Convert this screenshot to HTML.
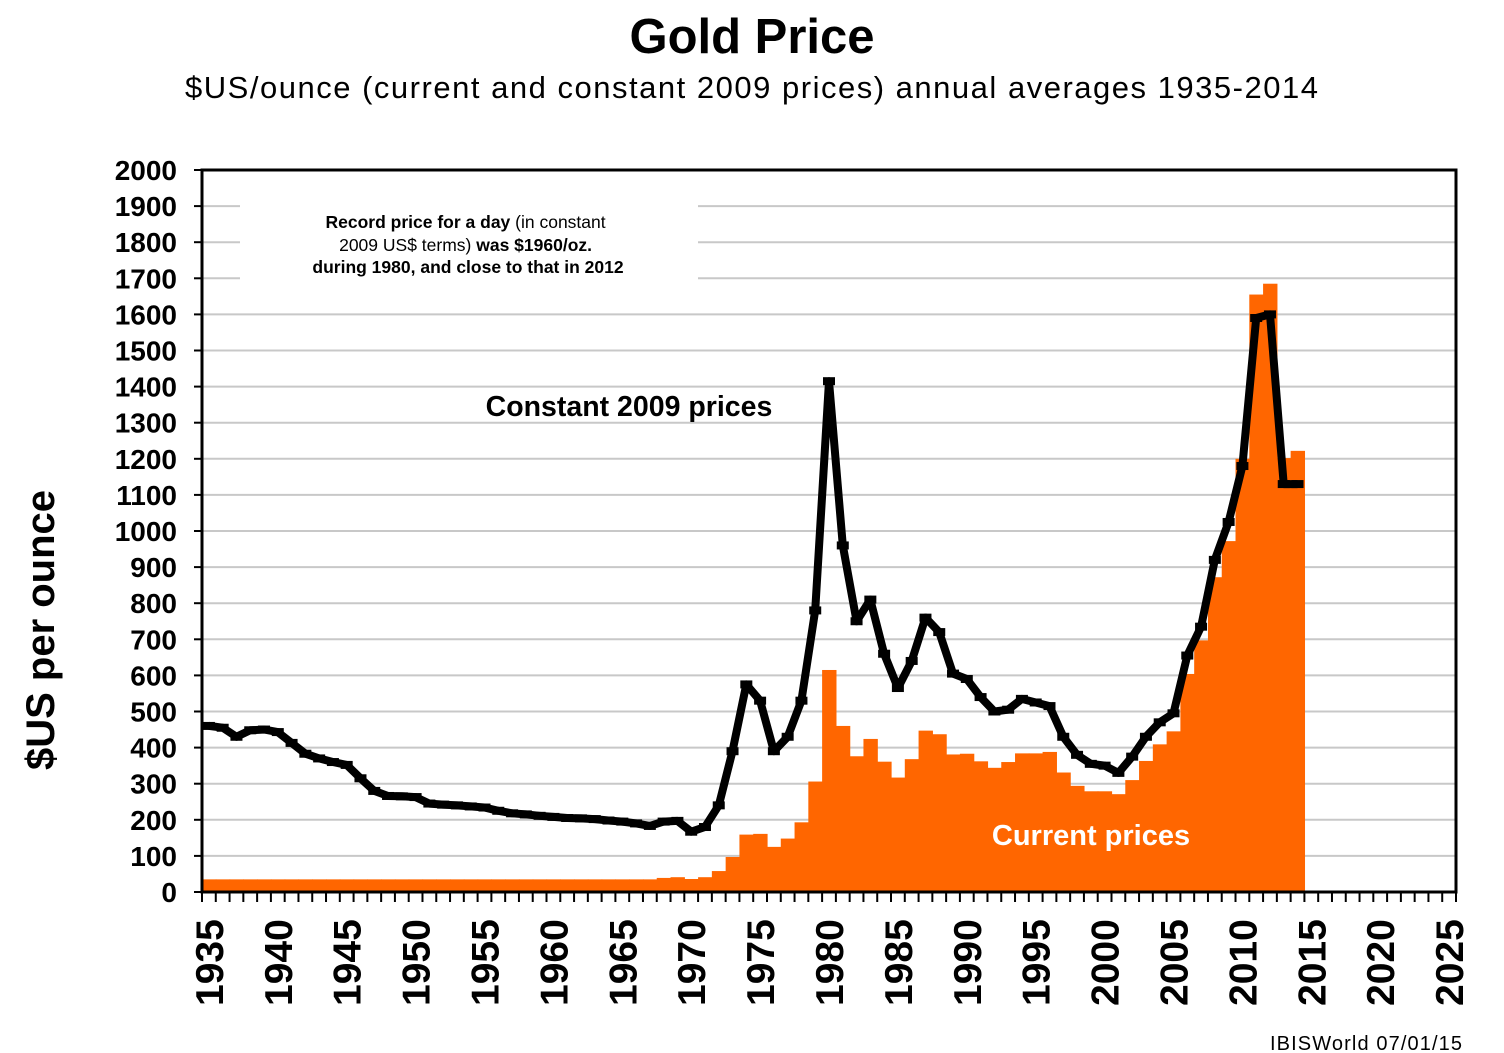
<!DOCTYPE html>
<html><head><meta charset="utf-8"><style>
body{margin:0;background:#fff;}
svg{display:block;font-family:"Liberation Sans",Arial,sans-serif;}
</style></head><body>
<svg id="s" width="1504" height="1053" xmlns="http://www.w3.org/2000/svg">
<text x="752" y="53" text-anchor="middle" font-size="49" font-weight="bold">Gold Price</text>
<text x="185" y="98" font-size="31" textLength="1133" lengthAdjust="spacing">$US/ounce (current and constant 2009 prices) annual averages  1935-2014</text>
<g id="grid"></g>
<g id="bars"></g>
<rect x="240" y="195" width="458" height="92" fill="#fff"/>
<text font-size="17.5" text-anchor="middle">
<tspan x="468" y="228" font-weight="bold">Record price for a day <tspan font-weight="normal">(in constant</tspan></tspan>
<tspan x="468" y="251">2009 US$ terms) <tspan font-weight="bold">was $1960/oz.</tspan></tspan>
<tspan x="468" y="273" font-weight="bold">during 1980, and close to that in 2012</tspan>
</text>
<polyline id="line" fill="none" stroke="#000" stroke-width="8" stroke-linejoin="round"/>
<g id="marks"></g>
<rect x="202" y="170" width="1254" height="722" fill="none" stroke="#000" stroke-width="3"/>
<g id="ticks"></g>
<g id="lab" font-weight="bold"></g>
<text x="629" y="416" text-anchor="middle" font-size="28.5" font-weight="bold">Constant 2009 prices</text>
<text x="1091" y="845" text-anchor="middle" font-size="29" font-weight="bold" fill="#fff">Current prices</text>
<text transform="translate(54,630) rotate(-90)" text-anchor="middle" font-size="40" font-weight="bold">$US per ounce</text>
<text x="1462" y="1050" text-anchor="end" font-size="20" textLength="192" lengthAdjust="spacing">IBISWorld  07/01/15</text>
</svg>
<script>
var NS="http://www.w3.org/2000/svg";
function el(p,t,a,txt){var e=document.createElementNS(NS,t);for(var k in a)e.setAttribute(k,a[k]);if(txt!=null)e.textContent=txt;document.getElementById(p).appendChild(e);return e;}
var X0=202,W=1254/91,Y0=892,S=722/2000;
function y(v){return Y0-v*S;}
for(var v=100;v<=1900;v+=100){el("grid","line",{x1:202,x2:1456,y1:y(v),y2:y(v),stroke:"#c8c8c8","stroke-width":2});}
var cur=[];for(var i=1935;i<=1967;i++)cur.push(35);
cur=cur.concat([39,41,36,41,58,97,159,161,125,148,193,306,615,460,376,424,361,317,368,447,437,381,383,362,344,360,384,384,388,331,294,279,279,271,310,363,409,445,604,697,872,972,1200,1655,1685,1202,1222]);
var con=[460,455,430,448,450,443,413,383,370,360,352,315,280,266,265,263,245,242,240,237,234,225,218,215,211,208,205,204,202,198,195,190,183,195,197,167,180,240,390,575,530,390,430,530,780,1415,960,750,810,660,565,640,760,720,605,590,540,500,505,535,525,515,430,380,355,350,330,375,430,470,495,655,735,920,1025,1180,1590,1600,1130,1130];
for(var i=0;i<cur.length;i++){el("bars","rect",{x:X0+i*W,y:y(cur[i]),width:W+0.6,height:cur[i]*S,fill:"#ff6600"});}
var pts=[];for(var i=0;i<con.length;i++){var cx=X0+(i+0.5)*W;pts.push(cx.toFixed(1)+","+y(con[i]).toFixed(1));el("marks","rect",{x:cx-6,y:y(con[i])-4,width:12,height:8,fill:"#000"});}
document.getElementById("line").setAttribute("points",pts.join(" "));
for(var i=0;i<=91;i++){var x=X0+i*W;el("ticks","line",{x1:x,x2:x,y1:892,y2:902,stroke:"#000","stroke-width":2});}
for(var v=0;v<=2000;v+=100){el("ticks","line",{x1:194,x2:202,y1:y(v),y2:y(v),stroke:"#000","stroke-width":2});el("lab","text",{x:177,y:y(v)+10,"text-anchor":"end","font-size":28},v);}
for(var yr=1935;yr<=2025;yr+=5){var cx=X0+(yr-1935+0.5)*W;el("lab","text",{transform:"translate("+(cx+14)+",1006) rotate(-90)","font-size":39},yr);}
</script>
</body></html>
